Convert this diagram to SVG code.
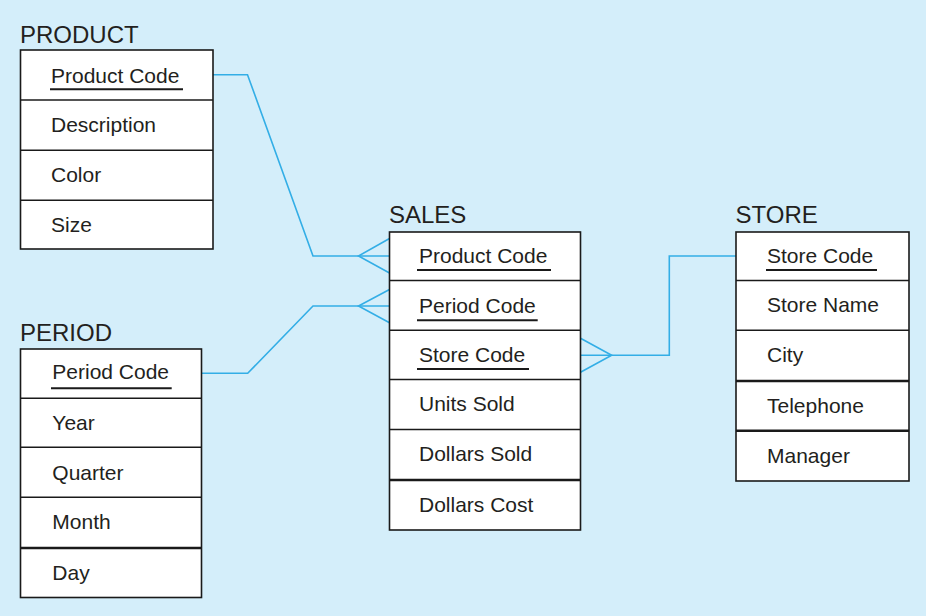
<svg xmlns="http://www.w3.org/2000/svg" width="926" height="616" viewBox="0 0 926 616">
<style>
.bg{fill:#d4eefa}
.box{fill:#fff;stroke:#1a1a1a;stroke-width:1.6}
.div{stroke:#1a1a1a;stroke-width:1.4}
.div2{stroke:#1a1a1a;stroke-width:2.4}
.title{font-family:"Liberation Sans",Arial,sans-serif;font-size:24px;fill:#231f20}
.f{font-family:"Liberation Sans",Arial,sans-serif;font-size:21px;fill:#231f20}
.ul{stroke:#1a1a1a;stroke-width:2}
.c{fill:none;stroke:#33aee6;stroke-width:1.6;stroke-linejoin:miter}
</style>
<rect class="bg" x="0" y="0" width="926" height="616"/>
<g id="connectors">
<polyline class="c" points="213,74.7 247.5,74.7 313,256 389.5,256"/>
<polyline class="c" points="389.5,238.5 358.5,256 389.5,273"/>
<polyline class="c" points="201.5,373.3 247.7,373.3 313,306 389.5,306"/>
<polyline class="c" points="389.5,289.5 358.5,306 389.5,322.7"/>
<polyline class="c" points="736,256 669.3,256 669.3,355.3 580.5,355.3"/>
<polyline class="c" points="580.5,338.3 611.7,355.3 580.5,372.3"/>
</g>
<g id="product">
<text class="title" x="20" y="42.7">PRODUCT</text>
<rect class="box" x="20.5" y="50" width="192.5" height="199"/>
<line class="div" x1="20.5" y1="100" x2="213" y2="100"/>
<line class="div" x1="20.5" y1="150.3" x2="213" y2="150.3"/>
<line class="div" x1="20.5" y1="200.3" x2="213" y2="200.3"/>
<text class="f" x="51" y="82.7">Product Code</text>
<line class="ul" x1="50" y1="89.3" x2="183" y2="89.3"/>
<text class="f" x="51" y="132">Description</text>
<text class="f" x="51" y="182">Color</text>
<text class="f" x="51" y="232">Size</text>
</g>
<g id="period">
<text class="title" x="20" y="340.7">PERIOD</text>
<rect class="box" x="20.5" y="349" width="181" height="248.5"/>
<line class="div" x1="20.5" y1="398.3" x2="201.5" y2="398.3"/>
<line class="div" x1="20.5" y1="447.3" x2="201.5" y2="447.3"/>
<line class="div" x1="20.5" y1="497.3" x2="201.5" y2="497.3"/>
<line class="div2" x1="20.5" y1="548" x2="201.5" y2="548"/>
<text class="f" x="52.3" y="379.3">Period Code</text>
<line class="ul" x1="51" y1="388.3" x2="171.7" y2="388.3"/>
<text class="f" x="52.3" y="430">Year</text>
<text class="f" x="52.3" y="480">Quarter</text>
<text class="f" x="52.3" y="529">Month</text>
<text class="f" x="52.3" y="580">Day</text>
</g>
<g id="sales">
<text class="title" x="389" y="223.3">SALES</text>
<rect class="box" x="389.5" y="232" width="191" height="298"/>
<line class="div" x1="389.5" y1="280.5" x2="580.5" y2="280.5"/>
<line class="div" x1="389.5" y1="330.3" x2="580.5" y2="330.3"/>
<line class="div" x1="389.5" y1="379.5" x2="580.5" y2="379.5"/>
<line class="div" x1="389.5" y1="429.5" x2="580.5" y2="429.5"/>
<line class="div2" x1="389.5" y1="480" x2="580.5" y2="480"/>
<text class="f" x="419" y="262.7">Product Code</text>
<line class="ul" x1="417" y1="270" x2="551" y2="270"/>
<text class="f" x="419" y="313.3">Period Code</text>
<line class="ul" x1="417" y1="320.3" x2="537.7" y2="320.3"/>
<text class="f" x="419" y="361.7">Store Code</text>
<line class="ul" x1="417" y1="369" x2="529" y2="369"/>
<text class="f" x="419" y="411">Units Sold</text>
<text class="f" x="419" y="461">Dollars Sold</text>
<text class="f" x="419" y="511.5">Dollars Cost</text>
</g>
<g id="store">
<text class="title" x="735.5" y="223.3">STORE</text>
<rect class="box" x="736" y="232" width="173" height="249"/>
<line class="div" x1="736" y1="280.5" x2="909" y2="280.5"/>
<line class="div" x1="736" y1="330.3" x2="909" y2="330.3"/>
<line class="div2" x1="736" y1="381" x2="909" y2="381"/>
<line class="div2" x1="736" y1="430.7" x2="909" y2="430.7"/>
<text class="f" x="767" y="262.7">Store Code</text>
<line class="ul" x1="766" y1="270" x2="877" y2="270"/>
<text class="f" x="767" y="312">Store Name</text>
<text class="f" x="767" y="362">City</text>
<text class="f" x="767" y="412.5">Telephone</text>
<text class="f" x="767" y="462.5">Manager</text>
</g>
</svg>
